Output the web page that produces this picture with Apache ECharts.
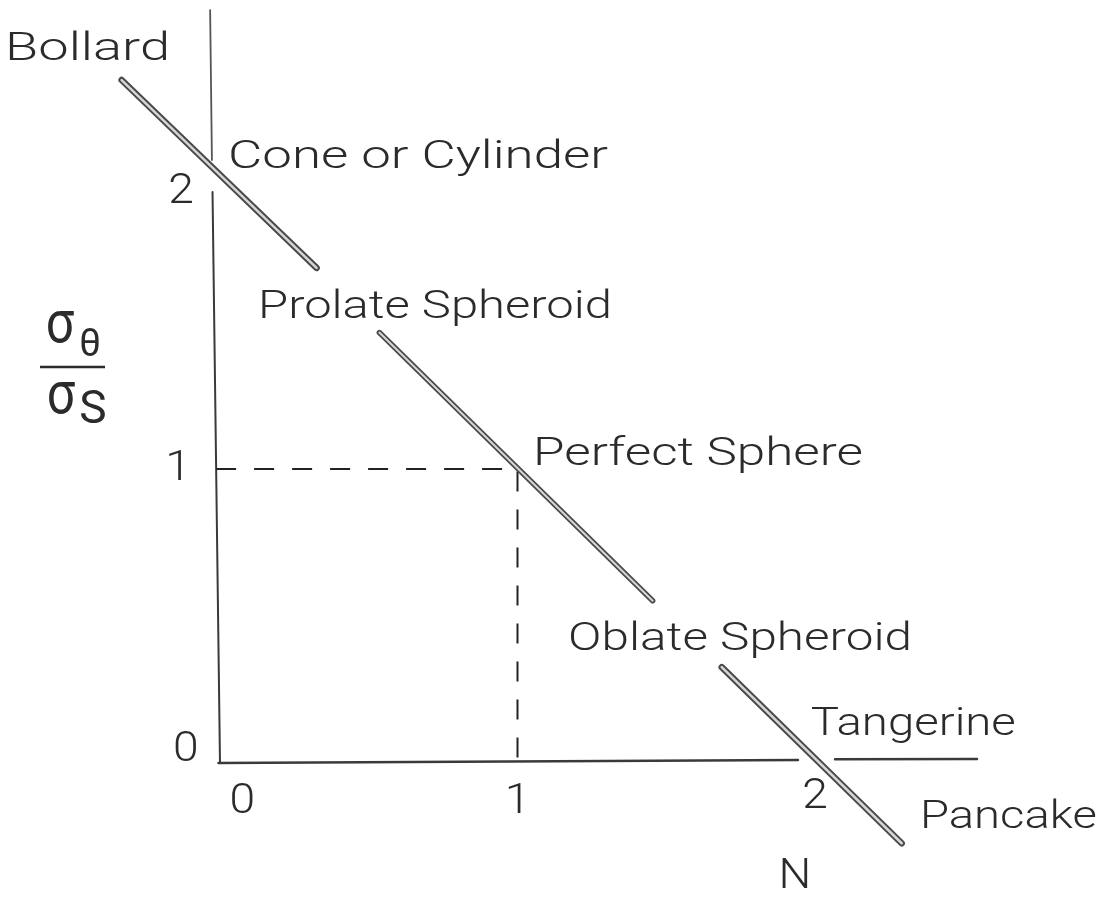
<!DOCTYPE html>
<html>
<head>
<meta charset="utf-8">
<title>Shape factor chart</title>
<script src="https://cdn.jsdelivr.net/npm/echarts@6/dist/echarts.min.js"></script>
<style>
  html, body { margin: 0; padding: 0; background: #fff; }
  #chart { width: 1118px; height: 900px; }
</style>
</head>
<body>
<div id="chart"></div>
<script>
// the shape line, drawn in three pieces (x = N, y = sigma ratio)
const bollardToCylinder = [[-0.324, 2.323], [0.328, 1.684]];
const prolateToOblate = [[0.538, 1.464], [1.452, 0.552]];
const oblateToPancake = [[1.683, 0.326], [2.285, -0.273]];

// hand drawn axes, broken where the shape line crosses them
const yAxisUpper = [[-0.028, 2.561], [-0.022, 2.051]];
const yAxisLower = [[-0.020, 1.942], [0.005, 0]];
const xAxisLeft = [[0, 0], [1.938, 0.010]];
const xAxisRight = [[2.062, 0.013], [2.537, 0.014]];

// dashed guide to the perfect sphere point
const sphereGuide = [[-0.008, 1], [1, 1], [1, 0]];

const xTicks = ['0', '1', '2'];
const yTicks = ['2', '1', '0'];
const shapeNames = ['Bollard', 'Cone or Cylinder', 'Prolate Spheroid', 'Perfect Sphere',
  'Oblate Spheroid', 'Tangerine', 'Pancake'];

// placement of the texts: left/middle anchor in data units + width to span (px)
const shapeNameLayout = [
  { at: [-0.714, 2.423], w: 165 },
  { at: [0.032, 2.056], w: 380 },
  { at: [0.132, 1.546], w: 354 },
  { at: [1.052, 1.046], w: 330 },
  { at: [1.169, 0.415], w: 344 },
  { at: [1.981, 0.126], w: 205 },
  { at: [2.346, -0.190], w: 177 },
]
const xTickAt = [[0.080, -0.136], [1.0, -0.133], [1.995, -0.116]];
const yTickAt = [[-0.125, 1.942], [-0.135, 0.998], [-0.109, 0.044]];

const INK = '#2b2b2b';
const FONT = 'Roboto';

const chart = echarts.init(document.getElementById('chart'), null, { renderer: 'canvas' });

function seg(data, color, width, extra) {
  return {
    type: 'line', data, symbol: 'none', silent: true, animation: false,
    lineStyle: Object.assign({ color, width, cap: 'round', join: 'round' }, extra || {}),
  };
}

chart.setOption({
  backgroundColor: '#fff',
  animation: false,
  grid: { left: 0, right: 0, top: 0, bottom: 0 },
  xAxis: { type: 'value', min: -0.7308, max: 3.0084, show: false },
  yAxis: { type: 'value', min: -0.466, max: 2.5952, show: false },
  series: [
    seg(yAxisUpper, '#555', 1.8),
    seg(yAxisLower, '#3a3a3a', 2),
    seg(xAxisLeft, '#3a3a3a', 2.5),
    seg(xAxisRight, '#3a3a3a', 2.5),
    seg(sphereGuide, '#222', 2, { type: [20, 18], cap: 'butt' }),
    // outlined look of the pen line: dark outer stroke, pale core
    seg(bollardToCylinder, '#4a4a4a', 6.5),
    seg(bollardToCylinder, '#d6d6d6', 2.5),
    seg(prolateToOblate, '#4a4a4a', 5.5),
    seg(prolateToOblate, '#d6d6d6', 2),
    seg(oblateToPancake, '#4a4a4a', 6.5),
    seg(oblateToPancake, '#d6d6d6', 2.5),
  ],
});

const toPx = p => chart.convertToPixel({ gridIndex: 0 }, p);
const measure = document.createElement('canvas').getContext('2d');

function label(text, at, opts) {
  const size = opts.size || 38;
  const weight = opts.weight || 300;
  measure.font = `${weight} ${size}px ${FONT}`;
  const sx = opts.w ? opts.w / measure.measureText(text).width : (opts.sx || 1);
  const p = opts.data !== false ? toPx(at) : at;
  return {
    type: 'text', x: p[0], y: p[1], scaleX: sx, scaleY: opts.sy || 1, silent: true,
    style: {
      text, fontFamily: FONT, fontWeight: weight, fontSize: size, fill: INK,
      align: opts.align || 'left', verticalAlign: 'middle',
    },
  };
}

const graphics = [];
shapeNames.forEach((name, i) => {
  graphics.push(label(name, shapeNameLayout[i].at, { w: shapeNameLayout[i].w }));
});
xTicks.forEach((t, i) => graphics.push(label(t, xTickAt[i], { size: 42, align: 'center', sx: 1.1 })));
yTicks.forEach((t, i) => graphics.push(label(t, yTickAt[i], { size: 42, align: 'center', sx: 1.1 })));

// axis titles
graphics.push(label('N', [795, 877], { data: false, size: 42, align: 'center', sx: 1.1 }));
graphics.push(label('σ', [60, 327], { data: false, size: 50, weight: 400, align: 'center', sy: 1.2 }));
graphics.push(label('θ', [90, 346], { data: false, size: 38, weight: 400, align: 'center' }));
graphics.push({
  type: 'line', silent: true,
  shape: { x1: 40, y1: 367, x2: 105, y2: 367 },
  style: { stroke: INK, lineWidth: 2.5 },
});
graphics.push(label('σ', [61, 398], { data: false, size: 50, weight: 400, align: 'center', sy: 1.2 }));
graphics.push(label('S', [93, 411], { data: false, size: 46, weight: 400, align: 'center' }));

chart.setOption({ graphic: graphics });
</script>
</body>
</html>
